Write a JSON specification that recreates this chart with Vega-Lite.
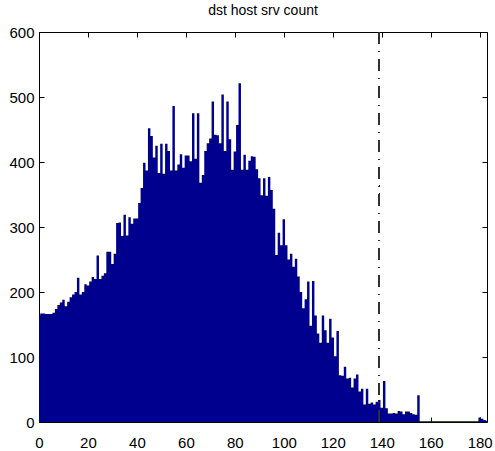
{
  "$schema": "https://vega.github.io/schema/vega-lite/v6.json",
  "width": 448,
  "height": 390,
  "autosize": {"type": "none"},
  "padding": {"left": 39, "top": 32, "right": 8, "bottom": 29},
  "background": "white",
  "title": {
    "text": "dst host srv count",
    "font": "Liberation Sans, Arial",
    "fontSize": 14,
    "fontWeight": "normal",
    "color": "black",
    "offset": 7
  },
  "data": {
    "values": [
      {"srv": 0, "count": 164}, {"srv": 1, "count": 167}, {"srv": 2, "count": 167}, {"srv": 3, "count": 166},
      {"srv": 4, "count": 166}, {"srv": 5, "count": 166}, {"srv": 6, "count": 168}, {"srv": 7, "count": 174},
      {"srv": 8, "count": 180}, {"srv": 9, "count": 184}, {"srv": 10, "count": 188}, {"srv": 11, "count": 178},
      {"srv": 12, "count": 185}, {"srv": 13, "count": 192}, {"srv": 14, "count": 196}, {"srv": 15, "count": 200},
      {"srv": 16, "count": 222}, {"srv": 17, "count": 196}, {"srv": 18, "count": 200}, {"srv": 19, "count": 212},
      {"srv": 20, "count": 210}, {"srv": 21, "count": 216}, {"srv": 22, "count": 223}, {"srv": 23, "count": 220},
      {"srv": 24, "count": 256}, {"srv": 25, "count": 220}, {"srv": 26, "count": 225}, {"srv": 27, "count": 229},
      {"srv": 28, "count": 262}, {"srv": 29, "count": 262}, {"srv": 30, "count": 243}, {"srv": 31, "count": 259},
      {"srv": 32, "count": 306}, {"srv": 33, "count": 307}, {"srv": 34, "count": 286}, {"srv": 35, "count": 319},
      {"srv": 36, "count": 287}, {"srv": 37, "count": 315}, {"srv": 38, "count": 305}, {"srv": 39, "count": 313},
      {"srv": 40, "count": 313}, {"srv": 41, "count": 337}, {"srv": 42, "count": 360}, {"srv": 43, "count": 399},
      {"srv": 44, "count": 387}, {"srv": 45, "count": 452}, {"srv": 46, "count": 440}, {"srv": 47, "count": 407},
      {"srv": 48, "count": 425}, {"srv": 49, "count": 383}, {"srv": 50, "count": 428}, {"srv": 51, "count": 382},
      {"srv": 52, "count": 428}, {"srv": 53, "count": 417}, {"srv": 54, "count": 387}, {"srv": 55, "count": 486},
      {"srv": 56, "count": 387}, {"srv": 57, "count": 396}, {"srv": 58, "count": 412}, {"srv": 59, "count": 391},
      {"srv": 60, "count": 410}, {"srv": 61, "count": 410}, {"srv": 62, "count": 401}, {"srv": 63, "count": 475},
      {"srv": 64, "count": 405}, {"srv": 65, "count": 475}, {"srv": 66, "count": 368}, {"srv": 67, "count": 380},
      {"srv": 68, "count": 417}, {"srv": 69, "count": 429}, {"srv": 70, "count": 436}, {"srv": 71, "count": 493},
      {"srv": 72, "count": 442}, {"srv": 73, "count": 441}, {"srv": 74, "count": 429}, {"srv": 75, "count": 504},
      {"srv": 76, "count": 417}, {"srv": 77, "count": 493}, {"srv": 78, "count": 435}, {"srv": 79, "count": 388},
      {"srv": 80, "count": 416}, {"srv": 81, "count": 457}, {"srv": 82, "count": 521}, {"srv": 83, "count": 388},
      {"srv": 84, "count": 411}, {"srv": 85, "count": 388}, {"srv": 86, "count": 402}, {"srv": 87, "count": 409},
      {"srv": 88, "count": 408}, {"srv": 89, "count": 389}, {"srv": 90, "count": 375}, {"srv": 91, "count": 349},
      {"srv": 92, "count": 375}, {"srv": 93, "count": 348}, {"srv": 94, "count": 377}, {"srv": 95, "count": 357},
      {"srv": 96, "count": 328}, {"srv": 97, "count": 257}, {"srv": 98, "count": 291}, {"srv": 99, "count": 272},
      {"srv": 100, "count": 312}, {"srv": 101, "count": 272}, {"srv": 102, "count": 250}, {"srv": 103, "count": 259},
      {"srv": 104, "count": 239}, {"srv": 105, "count": 251}, {"srv": 106, "count": 224}, {"srv": 107, "count": 200},
      {"srv": 108, "count": 175}, {"srv": 109, "count": 189}, {"srv": 110, "count": 216}, {"srv": 111, "count": 148},
      {"srv": 112, "count": 217}, {"srv": 113, "count": 164}, {"srv": 114, "count": 136}, {"srv": 115, "count": 122},
      {"srv": 116, "count": 164}, {"srv": 117, "count": 141}, {"srv": 118, "count": 122}, {"srv": 119, "count": 159},
      {"srv": 120, "count": 130}, {"srv": 121, "count": 101}, {"srv": 122, "count": 140}, {"srv": 123, "count": 72},
      {"srv": 124, "count": 71}, {"srv": 125, "count": 85}, {"srv": 126, "count": 67}, {"srv": 127, "count": 68},
      {"srv": 128, "count": 53}, {"srv": 129, "count": 67}, {"srv": 130, "count": 73}, {"srv": 131, "count": 47},
      {"srv": 132, "count": 51}, {"srv": 133, "count": 27}, {"srv": 134, "count": 51}, {"srv": 135, "count": 28},
      {"srv": 136, "count": 30}, {"srv": 137, "count": 27}, {"srv": 138, "count": 31}, {"srv": 139, "count": 34},
      {"srv": 140, "count": 22}, {"srv": 141, "count": 63}, {"srv": 142, "count": 21}, {"srv": 143, "count": 13},
      {"srv": 144, "count": 13}, {"srv": 145, "count": 14}, {"srv": 146, "count": 13}, {"srv": 147, "count": 17},
      {"srv": 148, "count": 16}, {"srv": 149, "count": 12}, {"srv": 150, "count": 16}, {"srv": 151, "count": 16},
      {"srv": 152, "count": 14}, {"srv": 153, "count": 12}, {"srv": 154, "count": 11}, {"srv": 155, "count": 41},
      {"srv": 156, "count": 1}, {"srv": 157, "count": 1}, {"srv": 158, "count": 1}, {"srv": 159, "count": 1},
      {"srv": 160, "count": 1}, {"srv": 161, "count": 1}, {"srv": 162, "count": 1}, {"srv": 163, "count": 1},
      {"srv": 164, "count": 1}, {"srv": 165, "count": 1}, {"srv": 166, "count": 1}, {"srv": 167, "count": 1},
      {"srv": 168, "count": 1}, {"srv": 169, "count": 1}, {"srv": 170, "count": 1}, {"srv": 171, "count": 1},
      {"srv": 172, "count": 1}, {"srv": 173, "count": 1}, {"srv": 174, "count": 1}, {"srv": 175, "count": 1},
      {"srv": 176, "count": 1}, {"srv": 177, "count": 1}, {"srv": 178, "count": 1}, {"srv": 179, "count": 1},
      {"srv": 180, "count": 7}, {"srv": 181, "count": 5}, {"srv": 182, "count": 3}, {"srv": 183, "count": 2}
    ]
  },
  "layer": [
    {
      "mark": {"type": "area", "interpolate": "step", "color": "#00008F", "opacity": 1, "clip": true},
      "encoding": {
        "x": {
          "field": "srv",
          "type": "quantitative",
          "scale": {"domain": [0, 183], "nice": false, "zero": false},
          "axis": {
            "orient": "bottom",
            "values": [0, 20, 40, 60, 80, 100, 120, 140, 160, 180],
            "tickSize": -5,
            "labelPadding": 18.5,
            "labelFlush": false,
            "title": null
          }
        },
        "y": {
          "field": "count",
          "type": "quantitative",
          "scale": {"domain": [0, 600], "nice": false},
          "axis": {
            "orient": "left",
            "values": [0, 100, 200, 300, 400, 500, 600],
            "tickSize": -5,
            "labelPadding": 10,
            "labelFlush": false,
            "title": null
          }
        }
      }
    },
    {
      "mark": {"type": "rule", "color": "#333333", "strokeWidth": 0.7, "strokeDash": [12, 7, 1, 7]},
      "encoding": {
        "x": {
          "datum": 139,
          "type": "quantitative",
          "axis": {
            "orient": "top",
            "values": [0, 20, 40, 60, 80, 100, 120, 140, 160, 180],
            "tickSize": -5,
            "labels": false,
            "title": null
          }
        },
        "y": {
          "datum": 0,
          "type": "quantitative",
          "axis": {
            "orient": "right",
            "values": [0, 100, 200, 300, 400, 500, 600],
            "tickSize": -5,
            "labels": false,
            "title": null
          }
        },
        "y2": {"datum": 600}
      }
    }
  ],
  "resolve": {"axis": {"x": "independent", "y": "independent"}},
  "config": {
    "view": {"stroke": null},
    "axis": {
      "grid": false,
      "domainColor": "#000000",
      "domainWidth": 1,
      "tickColor": "#000000",
      "tickWidth": 1,
      "labelColor": "#000000",
      "labelFont": "Liberation Sans, Arial",
      "labelFontSize": 15
    }
  }
}
